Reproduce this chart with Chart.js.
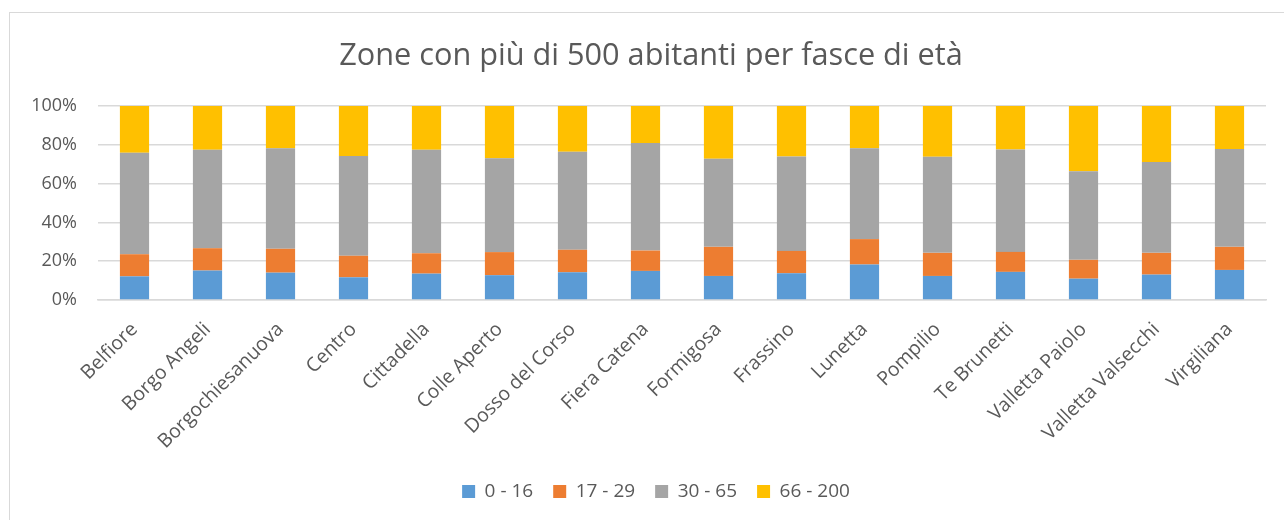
<!DOCTYPE html>
<html>
<head>
<meta charset="utf-8">
<script src="https://cdn.jsdelivr.net/npm/chart.js@4.4.1/dist/chart.umd.min.js"></script>
<style>
  html, body { margin: 0; padding: 0; background: #ffffff; overflow: hidden; }
  #wrap { position: relative; width: 1284px; height: 520px; }
  #frame { position: absolute; left: 9px; top: 12px; width: 1400px; height: 600px;
           border-left: 1.5px solid #d9d9d9; border-top: 1.5px solid #d9d9d9; pointer-events: none; }
  canvas { position: absolute; left: 0; top: 0; }
</style>
</head>
<body>
<div id="wrap">
  <canvas id="c" width="1284" height="520"></canvas>
  <div id="frame"></div>
</div>
<script>
const titleText = "Zone con più di 500 abitanti per fasce di età";
const categories = ["Belfiore", "Borgo Angeli", "Borgochiesanuova", "Centro", "Cittadella", "Colle Aperto",
  "Dosso del Corso", "Fiera Catena", "Formigosa", "Frassino", "Lunetta", "Pompilio", "Te Brunetti",
  "Valletta Paiolo", "Valletta Valsecchi", "Virgiliana"];
const seriesNames = ["0 - 16", "17 - 29", "30 - 65", "66 - 200"];
const age0_16   = [12.2, 15.2, 14.1, 11.7, 13.6, 12.8, 14.3, 15.0, 12.4, 13.8, 18.3, 12.4, 14.5, 11.0, 13.1, 15.5];
const age17_29  = [11.4, 11.5, 12.3, 11.1, 10.5, 11.9, 11.6, 10.5, 15.0, 11.5, 13.1, 11.9, 10.3,  9.7, 11.2, 11.9];
const age30_65  = [52.3, 50.7, 51.9, 51.5, 53.3, 48.4, 50.5, 55.5, 45.4, 48.7, 46.9, 49.5, 52.8, 45.7, 46.9, 50.5];
const age66_200 = [24.1, 22.6, 21.7, 25.7, 22.6, 26.9, 23.6, 19.0, 27.2, 26.0, 21.7, 26.2, 22.4, 33.6, 28.8, 22.1];
const yTicks = [0, 20, 40, 60, 80, 100];

const colors = ["#5B9BD5", "#ED7D31", "#A5A5A5", "#FFC000"];
const allSeries = [age0_16, age17_29, age30_65, age66_200];
const textColor = "#595959";
const fontFam = "'Open Sans', 'Liberation Sans', sans-serif";

// shift title and legend horizontally so they are centred like the original
const shiftBoxes = {
  id: "shiftBoxes",
  afterLayout(chart) {
    if (chart.titleBlock) { chart.titleBlock.left += 18; chart.titleBlock.right += 18; }
    if (chart.legend) { chart.legend.left += 23; chart.legend.right += 23; }
  }
};

new Chart(document.getElementById("c"), {
  type: "bar",
  data: {
    labels: categories,
    datasets: allSeries.map((d, i) => ({
      label: seriesNames[i],
      data: d,
      backgroundColor: colors[i],
      borderWidth: 0,
      categoryPercentage: 1.0,
      barPercentage: 0.4
    }))
  },
  plugins: [shiftBoxes],
  options: {
    responsive: false,
    animation: false,
    layout: { padding: { left: 0, right: 18, top: 0, bottom: 9 } },
    plugins: {
      title: {
        display: true,
        text: titleText,
        color: textColor,
        font: { family: fontFam, size: 30.7, weight: 400, lineHeight: 1.2 },
        padding: { top: 38, bottom: 31.2 }
      },
      legend: {
        position: "bottom",
        labels: {
          color: textColor,
          font: { family: fontFam, size: 19 },
          boxWidth: 13, boxHeight: 13,
          padding: 20
        }
      },
      tooltip: { enabled: false }
    },
    scales: {
      x: {
        stacked: true,
        grid: { display: false, drawTicks: false },
        border: { display: true, color: "#d9d9d9", width: 1.5 },
        ticks: {
          color: textColor,
          font: { family: fontFam, size: 19.5 },
          minRotation: 45, maxRotation: 45,
          padding: 18,
          autoSkip: false
        },
        afterFit: s => { s.height = 162; }
      },
      y: {
        stacked: true,
        min: 0, max: 100,
        afterBuildTicks: s => { s.ticks = yTicks.map(v => ({ value: v })); },
        grid: { color: "#d9d9d9", lineWidth: 1.5, drawTicks: false },
        border: { display: false },
        ticks: {
          color: textColor,
          font: { family: fontFam, size: 18 },
          padding: 21,
          callback: v => v + "%"
        },
        afterFit: s => { s.width = 98; }
      }
    }
  }
});
</script>
</body>
</html>
